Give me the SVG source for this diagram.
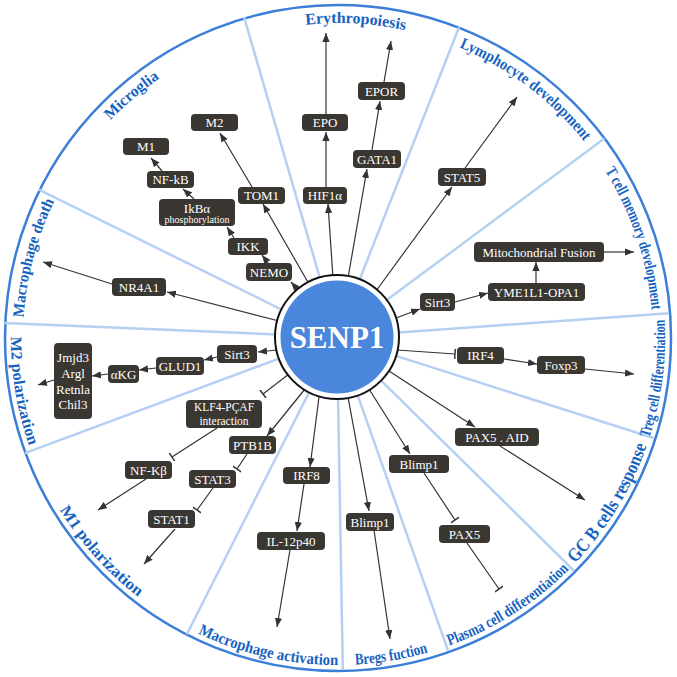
<svg xmlns="http://www.w3.org/2000/svg" width="677" height="677" viewBox="0 0 677 677">
<style>
.ring{fill:none;stroke:#3b7fd9;stroke-width:2.5}
.sec{stroke:#b5d0f3;stroke-width:2.5}
.lbl{font-family:"Liberation Serif",serif;font-weight:bold;fill:#1763c0;font-size:16px}
.box{fill:#3a3632}
.nt{font-family:"Liberation Serif",serif;fill:#fff;font-size:13px;text-anchor:middle}
.sm{font-size:10px}
.md{font-size:11.5px}
.c{stroke:#333;stroke-width:1.2;fill:none}
.a{marker-end:url(#arr)}
.i{marker-end:url(#inh)}
</style>
<defs>
<marker id="arr" viewBox="0 0 10 8" refX="10" refY="4" markerWidth="9" markerHeight="7.5" markerUnits="userSpaceOnUse" orient="auto"><path d="M0,0 L10,4 L0,8 z" fill="#333"/></marker>
<marker id="inh" viewBox="0 0 4 10" refX="2" refY="5" markerWidth="4" markerHeight="10" markerUnits="userSpaceOnUse" orient="auto"><path d="M2,0 V10" stroke="#333" stroke-width="1.5"/></marker>
<path id="pMicroglia" d="M75.6,163.7 A315,315 0 0 1 207.9,51.1"/>
<path id="pMacDeath" d="M24.9,372.3 A315,315 0 0 1 82.3,154.0"/>
<path id="pEry" d="M247.0,36.5 A315,315 0 0 1 462.1,48.5"/>
<path id="pLym" d="M403.5,29.9 A315,315 0 0 1 616.1,190.1"/>
<path id="pTmem" d="M569.9,124.8 A315,315 0 0 1 651.6,367.6"/>
<path id="pTreg" d="M625.9,493.0 A327,327 0 0 0 655.7,260.6"/>
<path id="pGC" d="M533.0,600.5 A327,327 0 0 0 660.6,391.4"/>
<path id="pPlasma" d="M391.4,660.6 A327,327 0 0 0 607.2,523.7"/>
<path id="pBregs" d="M295.3,662.2 A327,327 0 0 0 483.9,630.6"/>
<path id="pMacAct" d="M147.2,603.6 A327,327 0 0 0 396.5,659.7"/>
<path id="pM1" d="M32.7,455.2 A327,327 0 0 0 189.5,629.4"/>
<path id="pM2" d="M16.5,278.4 A324,324 0 0 0 53.4,499.0"/>
</defs>
<rect width="677" height="677" fill="#fff"/>
<g id="background">
<circle class="ring" cx="338" cy="338" r="333"/>
<g class="sec">
<line x1="399" y1="337" x2="670" y2="337" transform="rotate(-106.2 337 337)"/>
<line x1="399" y1="337" x2="670" y2="337" transform="rotate(-68.5 337 337)"/>
<line x1="399" y1="337" x2="670" y2="337" transform="rotate(-36.6 337 337)"/>
<line x1="399" y1="337" x2="670" y2="337" transform="rotate(-4.1 337 337)"/>
<line x1="399" y1="337" x2="670" y2="337" transform="rotate(17.7 337 337)"/>
<line x1="399" y1="337" x2="670" y2="337" transform="rotate(44.6 337 337)"/>
<line x1="399" y1="337" x2="670" y2="337" transform="rotate(70.5 337 337)"/>
<line x1="399" y1="337" x2="670" y2="337" transform="rotate(89 337 337)"/>
<line x1="399" y1="337" x2="670" y2="337" transform="rotate(116.8 337 337)"/>
<line x1="399" y1="337" x2="670" y2="337" transform="rotate(159.6 337 337)"/>
<line x1="399" y1="337" x2="670" y2="337" transform="rotate(182.4 337 337)"/>
<line x1="399" y1="337" x2="670" y2="337" transform="rotate(206.3 337 337)"/>
</g>
</g>
<g id="labels" class="lbl">
<text><textPath href="#pMicroglia" startOffset="50%" text-anchor="middle" textLength="65" lengthAdjust="spacingAndGlyphs">Microglia</textPath></text>
<text><textPath href="#pMacDeath" startOffset="50%" text-anchor="middle" textLength="121" lengthAdjust="spacingAndGlyphs">Macrophage death</textPath></text>
<text><textPath href="#pEry" startOffset="50%" text-anchor="middle" textLength="100" lengthAdjust="spacingAndGlyphs">Erythropoiesis</textPath></text>
<text><textPath href="#pLym" startOffset="50%" text-anchor="middle" textLength="158" lengthAdjust="spacingAndGlyphs">Lymphocyte development</textPath></text>
<text><textPath href="#pTmem" startOffset="50%" text-anchor="middle" textLength="148" lengthAdjust="spacingAndGlyphs">T cell memory development</textPath></text>
<text><textPath href="#pTreg" startOffset="50%" text-anchor="middle" textLength="120" lengthAdjust="spacingAndGlyphs">Treg cell differentiation</textPath></text>
<text style="font-size:19px"><textPath href="#pGC" startOffset="50%" text-anchor="middle" textLength="139" lengthAdjust="spacingAndGlyphs">GC B cells response</textPath></text>
<text><textPath href="#pPlasma" startOffset="50%" text-anchor="middle" textLength="143" lengthAdjust="spacingAndGlyphs">Plasma cell differentiation</textPath></text>
<text><textPath href="#pBregs" startOffset="50%" text-anchor="middle" textLength="74" lengthAdjust="spacingAndGlyphs">Bregs fuction</textPath></text>
<text><textPath href="#pMacAct" startOffset="50%" text-anchor="middle" textLength="145" lengthAdjust="spacingAndGlyphs">Macrophage activation</textPath></text>
<text><textPath href="#pM1" startOffset="50%" text-anchor="middle" textLength="118" lengthAdjust="spacingAndGlyphs">M1 polarization</textPath></text>
<text><textPath href="#pM2" startOffset="50%" text-anchor="middle" textLength="111" lengthAdjust="spacingAndGlyphs">M2 polarization</textPath></text>
</g>
<g id="connectors">
<line class="c a" x1="279" y1="321" x2="167" y2="292"/>
<line class="c a" x1="112" y1="284" x2="43" y2="262"/>
<line class="c a" x1="300" y1="292" x2="291" y2="282"/>
<line class="c a" x1="268" y1="263" x2="262" y2="255"/>
<line class="c a" x1="234" y1="238" x2="227" y2="227"/>
<line class="c a" x1="194" y1="199" x2="183" y2="189"/>
<line class="c a" x1="162" y1="171" x2="151" y2="158"/>
<line class="c a" x1="309" y1="284" x2="263" y2="204"/>
<line class="c a" x1="252" y1="187" x2="220" y2="133"/>
<line class="c a" x1="333" y1="278" x2="328" y2="204"/>
<line class="c a" x1="326" y1="187" x2="326" y2="132"/>
<line class="c a" x1="326" y1="114" x2="326" y2="33"/>
<line class="c a" x1="348" y1="278" x2="367" y2="169"/>
<line class="c a" x1="372" y1="150" x2="380" y2="101"/>
<line class="c a" x1="384" y1="82" x2="391" y2="41"/>
<line class="c a" x1="376" y1="291" x2="452" y2="187"/>
<line class="c a" x1="465" y1="168" x2="517" y2="97"/>
<line class="c a" x1="396" y1="318" x2="420" y2="309"/>
<line class="c a" x1="455" y1="302" x2="488" y2="293"/>
<line class="c a" x1="536" y1="283" x2="536" y2="262"/>
<line class="c a" x1="604" y1="252" x2="634" y2="252"/>
<line class="c i" x1="397" y1="350" x2="455" y2="354"/>
<line class="c a" x1="504" y1="359" x2="537" y2="364"/>
<line class="c a" x1="585" y1="369" x2="634" y2="374"/>
<line class="c a" x1="389" y1="371" x2="475" y2="427"/>
<line class="c a" x1="500" y1="446" x2="585" y2="500"/>
<line class="c a" x1="369" y1="389" x2="410" y2="454"/>
<line class="c i" x1="424" y1="473" x2="455" y2="520"/>
<line class="c i" x1="467" y1="543" x2="499" y2="589"/>
<line class="c a" x1="348" y1="397" x2="369" y2="511"/>
<line class="c a" x1="374" y1="530" x2="390" y2="639"/>
<line class="c a" x1="319" y1="397" x2="310" y2="467"/>
<line class="c a" x1="304" y1="484" x2="297" y2="531"/>
<line class="c a" x1="290" y1="550" x2="277" y2="627"/>
<line class="c a" x1="305" y1="389" x2="267" y2="436"/>
<line class="c i" x1="247" y1="454" x2="237" y2="469"/>
<line class="c i" x1="213" y1="488" x2="197" y2="510"/>
<line class="c a" x1="175" y1="529" x2="144" y2="564"/>
<line class="c i" x1="289" y1="374" x2="263" y2="394"/>
<line class="c i" x1="217" y1="428" x2="172" y2="457"/>
<line class="c a" x1="146" y1="479" x2="98" y2="510"/>
<line class="c a" x1="277" y1="350" x2="258" y2="352"/>
<line class="c a" x1="217" y1="357" x2="204" y2="360"/>
<line class="c a" x1="156" y1="368" x2="139" y2="370"/>
<line class="c a" x1="108" y1="374" x2="92" y2="376"/>
<line class="c a" x1="54" y1="380" x2="38" y2="385"/>
</g>
<g id="SENP1">
<circle cx="337" cy="337" r="62" fill="#fff" stroke="#111" stroke-width="2"/>
<circle cx="337" cy="337" r="56.5" fill="#4a86db"/>
<text x="337" y="347.5" font-family="Liberation Serif, serif" font-weight="bold" font-size="31" fill="#fff" text-anchor="middle">SENP1</text>
</g>
<g id="M2"><rect class="box" x="191" y="114" width="47" height="17" rx="4"/><text class="nt" x="214.5" y="127">M2</text></g>
<g id="M1"><rect class="box" x="123" y="138" width="46" height="17" rx="4"/><text class="nt" x="146" y="151">M1</text></g>
<g id="NF-kB"><rect class="box" x="147" y="171" width="47" height="17" rx="4"/><text class="nt" x="170.5" y="184">NF-kB</text></g>
<g id="IkBa"><rect class="box" x="159" y="199" width="76" height="27" rx="4"/><text class="nt" x="197" y="212.5">IkBα</text><text class="nt sm" x="197" y="223">phosphorylation</text></g>
<g id="IKK"><rect class="box" x="228" y="238" width="40" height="17" rx="4"/><text class="nt" x="248" y="251">IKK</text></g>
<g id="NEMO"><rect class="box" x="246" y="263" width="46" height="18" rx="4"/><text class="nt" x="269" y="276.5">NEMO</text></g>
<g id="TOM1"><rect class="box" x="238" y="187" width="47" height="17" rx="4"/><text class="nt" x="261.5" y="200">TOM1</text></g>
<g id="HIF1a"><rect class="box" x="303" y="187" width="44" height="17" rx="4"/><text class="nt" x="325" y="200">HIF1α</text></g>
<g id="EPO"><rect class="box" x="302" y="114" width="46" height="17" rx="4"/><text class="nt" x="325" y="127">EPO</text></g>
<g id="NR4A1"><rect class="box" x="112" y="278" width="54" height="18" rx="4"/><text class="nt" x="139" y="291.5">NR4A1</text></g>
<g id="EPOR"><rect class="box" x="358" y="82" width="47" height="18" rx="4"/><text class="nt" x="381.5" y="95.5">EPOR</text></g>
<g id="GATA1"><rect class="box" x="353" y="150" width="48" height="18" rx="4"/><text class="nt" x="377" y="163.5">GATA1</text></g>
<g id="STAT5"><rect class="box" x="438" y="168" width="48" height="18" rx="4"/><text class="nt" x="462" y="181.5">STAT5</text></g>
<g id="MitoFusion"><rect class="box" x="474" y="242" width="130" height="20" rx="4"/><text class="nt" x="539" y="256.5">Mitochondrial Fusion</text></g>
<g id="YME1L1-OPA1"><rect class="box" x="488" y="283" width="97" height="18" rx="4"/><text class="nt" x="536.5" y="296.5">YME1L1-OPA1</text></g>
<g id="Sirt3-right"><rect class="box" x="420" y="293" width="35" height="18" rx="4"/><text class="nt" x="437.5" y="306.5">Sirt3</text></g>
<g id="Sirt3-left"><rect class="box" x="217" y="345" width="40" height="18" rx="4"/><text class="nt" x="237" y="358.5">Sirt3</text></g>
<g id="GLUD1"><rect class="box" x="156" y="357" width="48" height="18" rx="4"/><text class="nt" x="180" y="370.5">GLUD1</text></g>
<g id="aKG"><rect class="box" x="108" y="365" width="31" height="18" rx="4"/><text class="nt" x="123.5" y="378.5">αKG</text></g>
<g id="Jmjd3"><rect class="box" x="54" y="343" width="38" height="76" rx="4"/><text class="nt" x="73" y="362">Jmjd3</text><text class="nt" x="73" y="378">Argl</text><text class="nt" x="73" y="393.5">Retnla</text><text class="nt" x="73" y="409">Chil3</text></g>
<g id="KLF4-PCAF"><rect class="box" x="186" y="400" width="76" height="28" rx="4"/><text class="nt md" x="224" y="410.5">KLF4-PÇAF</text><text class="nt md" x="224" y="424.5">interaction</text></g>
<g id="PTB1B"><rect class="box" x="229" y="436" width="47" height="18" rx="4"/><text class="nt" x="252.5" y="449.5">PTB1B</text></g>
<g id="NF-Kbeta"><rect class="box" x="125" y="461" width="47" height="18" rx="4"/><text class="nt" x="148.5" y="474.5">NF-Kβ</text></g>
<g id="STAT3"><rect class="box" x="189" y="470" width="47" height="18" rx="4"/><text class="nt" x="212.5" y="483.5">STAT3</text></g>
<g id="STAT1"><rect class="box" x="148" y="510" width="47" height="18" rx="4"/><text class="nt" x="171.5" y="523.5">STAT1</text></g>
<g id="IRF8"><rect class="box" x="283" y="467" width="47" height="17" rx="4"/><text class="nt" x="306.5" y="480">IRF8</text></g>
<g id="IL-12p40"><rect class="box" x="257" y="532" width="68" height="18" rx="4"/><text class="nt" x="291" y="545.5">IL-12p40</text></g>
<g id="IRF4"><rect class="box" x="457" y="347" width="47" height="17" rx="4"/><text class="nt" x="480.5" y="360">IRF4</text></g>
<g id="Foxp3"><rect class="box" x="537" y="356" width="48" height="18" rx="4"/><text class="nt" x="561" y="369.5">Foxp3</text></g>
<g id="PAX5-AID"><rect class="box" x="455" y="428" width="84" height="18" rx="4"/><text class="nt" x="497" y="441.5">PAX5 . AID</text></g>
<g id="Blimp1-right"><rect class="box" x="389" y="455" width="60" height="18" rx="4"/><text class="nt" x="419" y="468.5">Blimp1</text></g>
<g id="Blimp1-left"><rect class="box" x="346" y="513" width="48" height="18" rx="4"/><text class="nt" x="370" y="526.5">Blimp1</text></g>
<g id="PAX5"><rect class="box" x="439" y="525" width="51" height="18" rx="4"/><text class="nt" x="464.5" y="538.5">PAX5</text></g>
</svg>
